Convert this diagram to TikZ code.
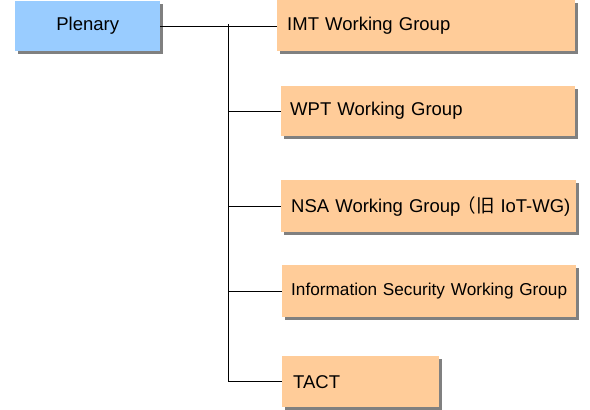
\documentclass[tikz,border=0pt]{standalone}
\usepackage{fontspec}
\setmainfont{Liberation Sans}
\newfontfamily\cjk{Noto Sans CJK JP}
\usetikzlibrary{positioning,shadows}
\definecolor{plenaryblue}{HTML}{99CCFF}
\definecolor{grouporange}{HTML}{FFCC99}
\tikzset{boxshadow/.style={drop shadow={shadow xshift=3pt,shadow yshift=-3pt,fill=black!50,opacity=1}},plenarybox/.style={rectangle,fill=plenaryblue,minimum width=145pt,minimum height=50pt,inner sep=0pt,font=\fontsize{18.5}{22}\selectfont,boxshadow},groupbox/.style={rectangle,fill=grouporange,inner xsep=9pt,inner ysep=0pt,align=left,boxshadow},link/.style={line width=.8pt}}

\begin{document}
\begin{tikzpicture}[x=1pt,y=-1pt]
\useasboundingbox (0,0) rectangle (590,410);
\node[plenarybox,anchor=north west] (plenary) at (15,1) {Plenary};
\foreach \name/\x/\y/\w/\h/\size/\txt in {IMT/277/0/298/51/18.5/{\hspace{1pt}IMT Working Group},WPT/281/86/294/50/18.5/{WPT Working Group},NSA/281/180/295/52/18.5/{\hspace{1pt}NSA Working Group\hspace{-3pt}{\cjk（旧}\hspace{6pt}IoT-WG)},ISWG/282/265/294/52/17.2/{Information Security Working Group},TACT/282/356/157/51/18.5/{\hspace{2pt}TACT}}{
\pgfmathsetmacro\tw{\w-18}
\node[groupbox,anchor=north west,text width=\tw pt,minimum height=\h pt,font=\fontsize{\size}{22}\selectfont] (\name) at (\x,\y) {\mbox{\txt}};
}
\coordinate (trunk) at (228,24);
\draw[link] (plenary.east) -- (plenary.east -| IMT.west);
\draw[link] (trunk) -- (trunk |- TACT.west);
\foreach \name in {WPT,NSA,ISWG,TACT}
\draw[link] (trunk |- \name.west) -- (\name.west);
\end{tikzpicture}
\end{document}
